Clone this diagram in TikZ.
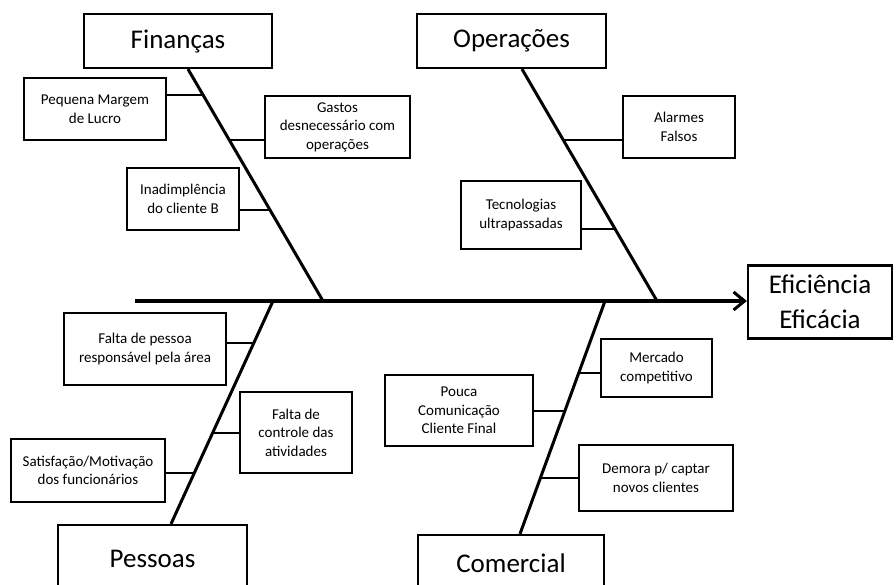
\documentclass[tikz,border=0pt]{standalone}
\usepackage{fontspec}
\setmainfont{Carlito}
\usetikzlibrary{arrows.meta}

\begin{document}
\begin{tikzpicture}[
    x=1pt, y=-1pt,
    cause/.style={draw, line width=1.6pt, align=center, inner sep=2pt, font=\fontsize{15}{18.5}\selectfont},
    group/.style={draw, line width=2.2pt, align=center, font=\fontsize{27}{35}\selectfont},
    bone/.style={line width=3pt},
    link/.style={line width=2pt},
    >={Straight Barb[length=11pt, width=18pt, line width=3pt]}
]
\useasboundingbox (0,0) rectangle (896,585);
\clip (0,0) rectangle (896,585);

\node[group, minimum width=188pt, minimum height=54pt] (fin) at (178,41) {Finanças};
\node[group, minimum width=189pt, minimum height=54pt] (ope) at (511.5,41) {Operações};
\node[group, minimum width=144pt, minimum height=73pt] (efi) at (820,302) {Eficiência\\Eficácia};
\node[group, minimum width=189pt, minimum height=68pt] (pes) at (152.5,559) {Pessoas};
\node[group, minimum width=186pt, minimum height=56pt] (com) at (511,563) {Comercial};

\node[cause, minimum width=142pt, minimum height=62pt] (pm) at (95,109) {Pequena Margem\\de Lucro};
\node[cause, minimum width=145pt, minimum height=62pt] (ga) at (337.5,127) {Gastos\\desnecessário com\\operações};
\node[cause, minimum width=112pt, minimum height=62pt] (in) at (183,199) {Inadimplência\\do cliente B};
\node[cause, minimum width=112pt, minimum height=62pt] (al) at (679,127) {Alarmes\\Falsos};
\node[cause, minimum width=120pt, minimum height=68pt] (te) at (521,215) {Tecnologias\\ultrapassadas};
\node[cause, minimum width=162pt, minimum height=72pt] (fp) at (145,349) {Falta de pessoa\\responsável pela área};
\node[cause, minimum width=112pt, minimum height=81pt] (fc) at (296,432.5) {Falta de\\controle das\\atividades};
\node[cause, minimum width=154pt, minimum height=63pt] (sm) at (88,470.5) {Satisfação/Motivação\\dos funcionários};
\node[cause, minimum width=111pt, minimum height=58pt] (me) at (656.5,368) {Mercado\\competitivo};
\node[cause, minimum width=148pt, minimum height=71pt] (po) at (459,410.5) {Pouca\\Comunicação\\Cliente Final};
\node[cause, minimum width=154pt, minimum height=66pt] (de) at (656,478) {Demora p/ captar\\novos clientes};

\coordinate (tail) at (135,301);
\coordinate (fend) at (323,301);
\coordinate (oend) at (657,301);
\coordinate (pend) at (273,301);
\coordinate (cend) at (605,301);

\draw[line width=4pt, ->] (tail) -- (efi.west |- tail);

\draw[bone] ([xshift=10pt]fin.south) -- (fend);
\draw[bone] ([xshift=10.5pt]ope.south) -- (oend);
\draw[bone] (pend) -- ([xshift=18.5pt]pes.north);
\draw[bone] (cend) -- ([xshift=9pt]com.north);

\coordinate (f1) at (203.5,95);
\coordinate (f2) at (230,140);
\coordinate (f3) at (271,210);
\coordinate (o1) at (564,140);
\coordinate (o2) at (616,229);
\coordinate (p1) at (253.5,343);
\coordinate (p2) at (212.7,433);
\coordinate (p3) at (194.6,473);
\coordinate (c1) at (578.6,373);
\coordinate (c2) at (564.8,411);
\coordinate (c3) at (540.6,478);

\draw[link] (f1) -- (f1 -| pm.east);
\draw[link] (f2) -- (f2 -| ga.west);
\draw[link] (f3) -- (f3 -| in.east);
\draw[link] (o1) -- (o1 -| al.west);
\draw[link] (o2) -- (o2 -| te.east);
\draw[link] (p1) -- (p1 -| fp.east);
\draw[link] (p2) -- (p2 -| fc.west);
\draw[link] (p3) -- (p3 -| sm.east);
\draw[link] (c1) -- (c1 -| me.west);
\draw[link] (c2) -- (c2 -| po.east);
\draw[link] (c3) -- (c3 -| de.west);

\end{tikzpicture}
\end{document}
